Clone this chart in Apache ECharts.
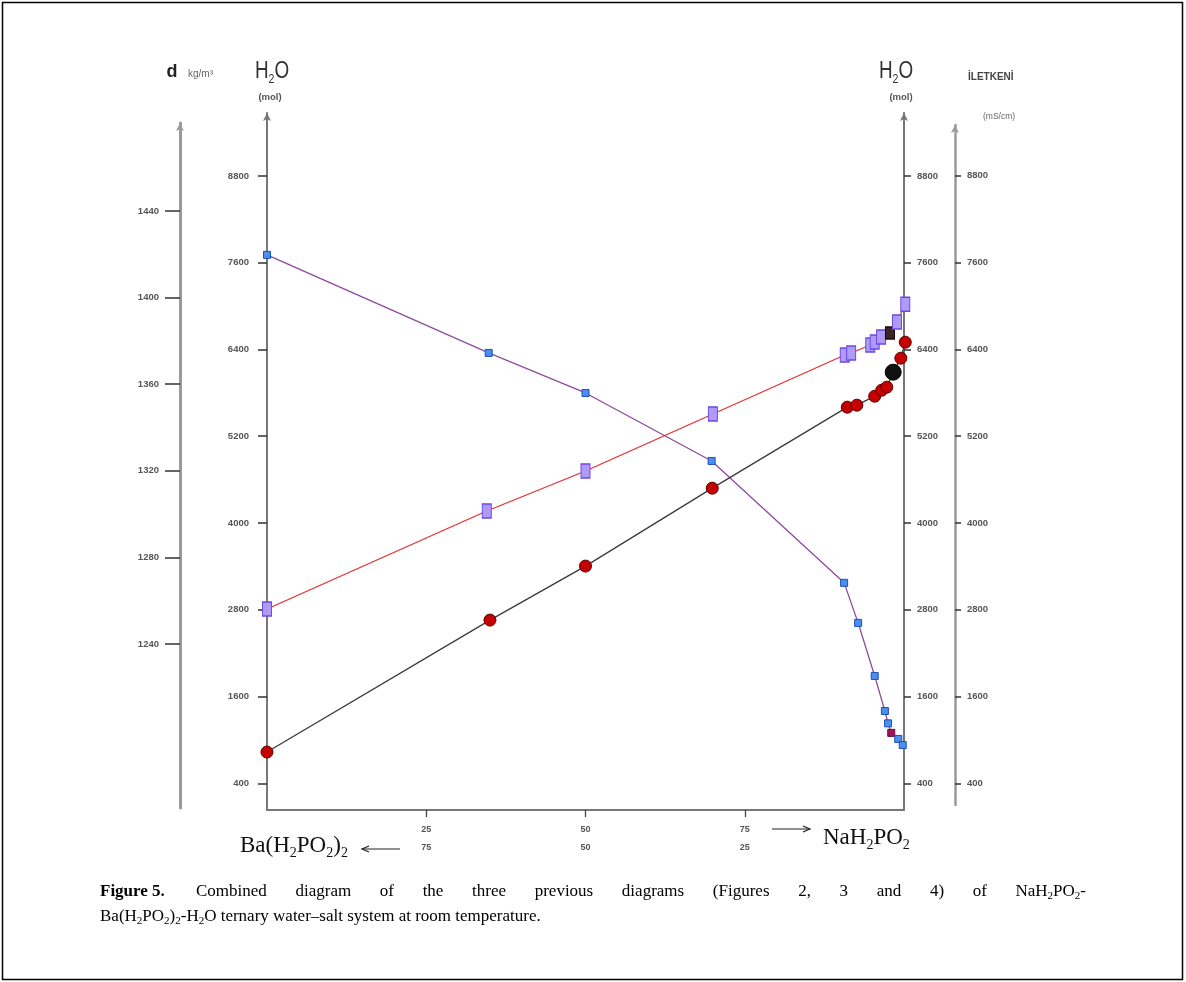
<!DOCTYPE html>
<html><head><meta charset="utf-8">
<script src="https://cdn.jsdelivr.net/npm/echarts@6/dist/echarts.min.js"></script>
<style>html,body{margin:0;padding:0;background:#fff}#c{width:1186px;height:982px}</style>
</head><body><div id="c"></div>
<script>
// ---- data ----
// bottom axis: % NaH2PO2 (top row) / % Ba(H2PO2)2 (bottom row)
const compTicks = [25, 50, 75];
const compLabelsTop = ['25', '50', '75'];
const compLabelsBottom = ['75', '50', '25'];
// tick labels
const h2oTicks = [400, 1600, 2800, 4000, 5200, 6400, 7600, 8800];
const condTicks = [400, 1600, 2800, 4000, 5200, 6400, 7600, 8800];
const densTicks = [1240, 1280, 1320, 1360, 1400, 1440];

// density d (kg/m3) vs composition
const densX = [0, 34.8, 50, 69.8, 90.6, 92.8, 95.4, 97.0, 97.5, 98.0, 99.1, 99.8];
const densY = [1419.7, 1374.4, 1355.9, 1324.5, 1268.2, 1249.7, 1225.2, 1209.0, 1203.3, 1198.9, 1196.1, 1193.3];
// water content H2O (mol) vs composition
const h2oX = [0, 35.0, 50, 69.9, 91.1, 92.6, 95.4, 96.5, 97.3, 98.3, 99.5, 100.2];
const h2oY = [832, 2657, 3404, 4482, 5602, 5630, 5754, 5837, 5879, 6086, 6280, 6501];
// conductivity (mS/cm) vs composition
const condX = [0, 34.5, 50, 70.0, 90.7, 91.7, 94.7, 95.4, 96.4, 97.8, 98.9, 100.2];
const condY = [2809, 4164, 4717, 5505, 6321, 6349, 6459, 6501, 6570, 6625, 6777, 7022];

// ---- chart ----
const chart = echarts.init(document.getElementById('c'));
const sans = '"Liberation Sans", Arial, sans-serif';
const serif = '"Liberation Serif", "Times New Roman", serif';
const tickLabel = {fontSize: 9.5, fontWeight: 'bold', color: '#555', fontFamily: sans, formatter: v => String(v)};

function pts(xs, ys, special) {
  return xs.map((x, i) => {
    const d = {value: [x, ys[i]]};
    if (special && special[i]) { d.itemStyle = special[i].itemStyle; if (special[i].symbolSize) d.symbolSize = special[i].symbolSize; }
    return d;
  });
}

// caption measurement helpers (layout only)
const cv = document.createElement('canvas').getContext('2d');
function tw(t, font) { cv.font = font; return cv.measureText(t).width; }
const capFont = '17px ' + serif;
const capSub = '11px ' + serif;
const capRich = {
  n: {font: capFont, fill: '#000', lineHeight: 20},
  b: {font: 'bold 17px ' + serif, fill: '#000', lineHeight: 20},
  s: {font: capSub, fill: '#000', lineHeight: 12, verticalAlign: 'bottom'}
};
const words = [
  {t: '{n|Combined}', w: tw('Combined', capFont)},
  {t: '{n|diagram}', w: tw('diagram', capFont)},
  {t: '{n|of}', w: tw('of', capFont)},
  {t: '{n|the}', w: tw('the', capFont)},
  {t: '{n|three}', w: tw('three', capFont)},
  {t: '{n|previous}', w: tw('previous', capFont)},
  {t: '{n|diagrams}', w: tw('diagrams', capFont)},
  {t: '{n|(Figures}', w: tw('(Figures', capFont)},
  {t: '{n|2,}', w: tw('2,', capFont)},
  {t: '{n|3}', w: tw('3', capFont)},
  {t: '{n|and}', w: tw('and', capFont)},
  {t: '{n|4)}', w: tw('4)', capFont)},
  {t: '{n|of}', w: tw('of', capFont)},
  {t: '{n|NaH}{s|2}{n|PO}{s|2}{n|-}', w: tw('NaH', capFont) + tw('PO', capFont) + tw('-', capFont) + 2 * tw('2', capSub)}
];
const xStart = 196, xEnd = 1086;
const sumW = words.reduce((a, b) => a + b.w, 0);
const gap = (xEnd - xStart - sumW) / (words.length - 1);
const capEls = [];
let cx = xStart;
words.forEach(wd => {
  capEls.push({type: 'text', style: {x: cx, y: 892, text: wd.t, rich: capRich, verticalAlign: 'middle', align: 'left'}});
  cx += wd.w + gap;
});

function arrowLine(x1, x2, y, headAtLeft) {
  const hx = headAtLeft ? x1 : x2;
  const dir = headAtLeft ? 1 : -1;
  return [
    {type: 'line', shape: {x1: x1, y1: y, x2: x2, y2: y}, style: {stroke: '#222', lineWidth: 1.2}},
    {type: 'polyline', shape: {points: [[hx + dir * 7, y - 3], [hx, y], [hx + dir * 7, y + 3]]}, style: {stroke: '#222', lineWidth: 1.2, fill: null}}
  ];
}

const headRich = {
  a: {font: '23px ' + sans, fill: '#333', lineHeight: 27},
  s: {font: '13px ' + sans, fill: '#333', lineHeight: 13, verticalAlign: 'bottom'}
};
const bigRich = {
  a: {font: '23px ' + serif, fill: '#111', lineHeight: 28},
  s: {font: '14px ' + serif, fill: '#111', lineHeight: 14, verticalAlign: 'bottom'}
};

const yLine = (color, width) => ({show: true, onZero: false, symbol: ['none', 'arrow'], symbolSize: [6, 8], lineStyle: {color: color, width: width}});

const option = {
  backgroundColor: '#fff',
  animation: false,
  grid: [
    {left: 267, right: 282, top: 113, bottom: 172},
    {left: 267, right: 282, top: 123, bottom: 174},
    {left: 267, right: 282, top: 125, bottom: 177}
  ],
  xAxis: [
    {type: 'value', gridIndex: 0, min: 0, max: 100, position: 'bottom',
      axisLine: {show: true, onZero: false, lineStyle: {color: '#777', width: 2}},
      axisTick: {show: true, customValues: compTicks, length: 7, lineStyle: {color: '#444', width: 1.3}},
      axisLabel: {show: true, customValues: compTicks, margin: 11, lineHeight: 18, fontSize: 9, fontWeight: 'bold', color: '#555', fontFamily: sans,
        formatter: v => { const i = compTicks.indexOf(v); return compLabelsTop[i] + '\n' + compLabelsBottom[i]; }},
      splitLine: {show: false}},
    {type: 'value', gridIndex: 1, min: 0, max: 100, show: false},
    {type: 'value', gridIndex: 2, min: 0, max: 100, show: false}
  ],
  yAxis: [
    {type: 'value', gridIndex: 0, position: 'left', min: 30.4, max: 9671,
      axisLine: yLine('#777', 2),
      axisTick: {show: true, customValues: h2oTicks, length: 9, lineStyle: {color: '#333', width: 1.5}},
      axisLabel: {show: true, customValues: h2oTicks, margin: 18, ...tickLabel},
      splitLine: {show: false}},
    {type: 'value', gridIndex: 0, position: 'right', min: 30.4, max: 9671,
      axisLine: yLine('#777', 2),
      axisTick: {show: true, customValues: h2oTicks, length: 7, lineStyle: {color: '#333', width: 1.5}},
      axisLabel: {show: true, customValues: h2oTicks, margin: 13, ...tickLabel},
      splitLine: {show: false}},
    {type: 'value', gridIndex: 1, position: 'left', offset: 87, min: 1164.2, max: 1480.6,
      axisLine: yLine('#9a9a9a', 3),
      axisTick: {show: true, customValues: densTicks, length: 15, lineStyle: {color: '#333', width: 1.5}},
      axisLabel: {show: true, customValues: densTicks, margin: 21, ...tickLabel},
      splitLine: {show: false}},
    {type: 'value', gridIndex: 2, position: 'right', offset: 51, min: 99.5, max: 9501,
      axisLine: yLine('#9a9a9a', 2.5),
      axisTick: {show: true, customValues: condTicks, length: 6, lineStyle: {color: '#333', width: 1.5}},
      axisLabel: {show: true, customValues: condTicks, margin: 12, ...tickLabel},
      splitLine: {show: false}}
  ],
  series: [
    {name: 'd', type: 'line', xAxisIndex: 1, yAxisIndex: 2, clip: false,
      data: pts(densX, densY, {9: {itemStyle: {color: '#a3125e', borderColor: '#6a0838'}}}),
      symbol: 'rect', symbolSize: 7, showAllSymbol: true,
      lineStyle: {color: '#8e4a9e', width: 1.3},
      itemStyle: {color: '#4a8ff0', borderColor: '#1d4fb8', borderWidth: 1}, z: 3},
    {name: 'İletkenlik', type: 'line', xAxisIndex: 2, yAxisIndex: 3, clip: false,
      data: pts(condX, condY, {9: {itemStyle: {color: '#3a2424', borderColor: '#1a0a0a'}, symbolSize: [9, 12]}}),
      symbol: 'rect', symbolSize: [9, 14], showAllSymbol: true,
      lineStyle: {color: '#e53030', width: 1.3},
      itemStyle: {color: '#b09af8', borderColor: '#6a48e6', borderWidth: 1.2}, z: 4},
    {name: 'H2O', type: 'line', xAxisIndex: 0, yAxisIndex: 0, clip: false,
      data: pts(h2oX, h2oY, {9: {itemStyle: {color: '#111', borderColor: '#000'}, symbolSize: 16}}),
      symbol: 'circle', symbolSize: 12, showAllSymbol: true,
      lineStyle: {color: '#3a3a3a', width: 1.3},
      itemStyle: {color: '#c40000', borderColor: '#5a0000', borderWidth: 1}, z: 5}
  ],
  graphic: [
    {type: 'rect', shape: {x: 2.5, y: 2.5, width: 1180, height: 977}, style: {fill: null, stroke: '#000', lineWidth: 1.5}, silent: true},
    // headers
    {type: 'text', style: {x: 172, y: 72, text: 'd', font: 'bold 18px ' + sans, fill: '#222', align: 'center', verticalAlign: 'middle'}},
    {type: 'text', style: {x: 188, y: 74, text: 'kg/m³', font: '10px ' + sans, fill: '#666', align: 'left', verticalAlign: 'middle'}},
    {type: 'text', x: 272, y: 72, scaleX: 0.82, style: {x: 0, y: 0, text: '{a|H}{s|2}{a|O}', rich: headRich, align: 'center', verticalAlign: 'middle'}},
    {type: 'text', style: {x: 270, y: 97, text: '(mol)', font: 'bold 9.5px ' + sans, fill: '#555', align: 'center', verticalAlign: 'middle'}},
    {type: 'text', x: 896, y: 72, scaleX: 0.82, style: {x: 0, y: 0, text: '{a|H}{s|2}{a|O}', rich: headRich, align: 'center', verticalAlign: 'middle'}},
    {type: 'text', style: {x: 901, y: 97, text: '(mol)', font: 'bold 9.5px ' + sans, fill: '#555', align: 'center', verticalAlign: 'middle'}},
    {type: 'text', style: {x: 968, y: 77, text: 'İLETKENİ', font: 'bold 10px ' + sans, fill: '#444', align: 'left', verticalAlign: 'middle'}},
    {type: 'text', style: {x: 983, y: 117, text: '(mS/cm)', font: '8.5px ' + sans, fill: '#666', align: 'left', verticalAlign: 'middle'}},
    // bottom component labels
    {type: 'text', style: {x: 240, y: 846, text: '{a|Ba(H}{s|2}{a|PO}{s|2}{a|)}{s|2}', rich: bigRich, align: 'left', verticalAlign: 'middle'}},
    ...arrowLine(362, 400, 849, true),
    ...arrowLine(772, 810, 829, false),
    {type: 'text', style: {x: 823, y: 838, text: '{a|NaH}{s|2}{a|PO}{s|2}', rich: bigRich, align: 'left', verticalAlign: 'middle'}},
    // caption
    {type: 'text', style: {x: 100, y: 892, text: '{b|Figure 5.}', rich: capRich, align: 'left', verticalAlign: 'middle'}},
    ...capEls,
    {type: 'text', style: {x: 100, y: 917, text: '{n|Ba(H}{s|2}{n|PO}{s|2}{n|)}{s|2}{n|-H}{s|2}{n|O ternary water–salt system at room temperature.}', rich: capRich, align: 'left', verticalAlign: 'middle'}}
  ]
};
chart.setOption(option);
</script>
</body></html>
